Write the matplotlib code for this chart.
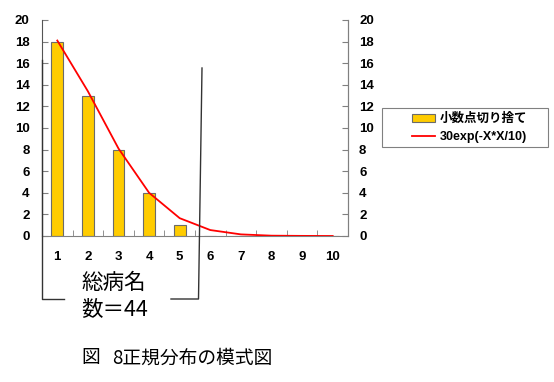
import matplotlib.pyplot as plt
from matplotlib.lines import Line2D
from matplotlib.patches import Rectangle

plt.rcParams['font.family'] = ['Liberation Sans', 'Noto Sans CJK JP', 'DejaVu Sans']

# データ
cats = [1, 2, 3, 4, 5, 6, 7, 8, 9, 10]
counts = [18, 13, 8, 4, 1, 0, 0, 0, 0, 0]          # 小数点切り捨て
curve = [18.1, 13.4, 8.1, 4.0, 1.65, 0.55, 0.15, 0.03, 0.01, 0.0]  # 30exp(-X*X/10)
yticks = [0, 2, 4, 6, 8, 10, 12, 14, 16, 18, 20]

W, H = 554, 382
fig = plt.figure(figsize=(W / 100, H / 100), dpi=100)
ax = fig.add_axes([42 / W, (H - 236) / H, (348 - 42) / W, (236 - 20) / H])

gray = '#808080'
bars = ax.bar(cats, counts, width=0.38, color='#FFCC00', edgecolor='#6b6b6b', linewidth=0.8,
              label='小数点切り捨て', zorder=2)
line, = ax.plot(cats, curve, color='#FF0000', lw=1.3, label='30exp(-X*X/10)', zorder=3)

ax.set_xlim(0.5, 10.5)
ax.set_ylim(0, 20)
ax.set_yticks(yticks)
ax.set_xticks(cats)
ax.set_xticks([c + 0.5 for c in cats[:-1]], minor=True)
ax.tick_params(axis='x', which='major', length=0, pad=11)
ax.tick_params(axis='x', which='minor', direction='in', length=4, color=gray)
ax.tick_params(axis='y', direction='in', length=4, color=gray, pad=9)
for lab in ax.get_xticklabels() + ax.get_yticklabels():
    lab.set_fontweight('bold')
    lab.set_fontsize(9.5)

ax.spines['top'].set_visible(False)
for s in ['left', 'right', 'bottom']:
    ax.spines[s].set_color(gray)
ax.spines['left'].set_color('#555555')

ax2 = ax.twinx()
ax2.set_ylim(0, 20)
ax2.set_yticks(yticks)
ax2.tick_params(axis='y', direction='in', length=4, color=gray, pad=8)
for lab in ax2.get_yticklabels():
    lab.set_fontweight('bold')
    lab.set_fontsize(9.5)
for s in ['left', 'top', 'bottom']:
    ax2.spines[s].set_visible(False)
ax2.spines['right'].set_color(gray)


def px(x, y):
    return x / W, 1 - y / H


# 凡例
fig.add_artist(Rectangle(px(382, 147), 166 / W, 39 / H, transform=fig.transFigure,
                         facecolor='white', edgecolor=gray, lw=0.8))
leg = fig.legend([bars, line], ['小数点切り捨て', '30exp(-X*X/10)'], loc='center left',
                 bbox_to_anchor=px(406, 128), frameon=False,
                 prop={'weight': 'bold', 'size': 9}, handlelength=1.8,
                 handleheight=0.7, handletextpad=0.4, borderpad=0, labelspacing=0.45)


def seg(pts):
    xs = [px(*p)[0] for p in pts]
    ys = [px(*p)[1] for p in pts]
    fig.add_artist(Line2D(xs, ys, color='#333333', lw=1.0, transform=fig.transFigure))


seg([(64, 299), (41.5, 299), (41.5, 60)])
seg([(171, 299), (198.5, 299), (202, 68)])

fig.text(*px(81, 283), '総病名', fontsize=15.5, family=['Noto Sans CJK JP'], va='center')
fig.text(*px(81, 310), '数＝44', fontsize=15.5, family=['Noto Sans CJK JP'], va='center')
fig.text(*px(81, 358), '図', fontsize=13.5, family=['Noto Sans CJK JP'], va='center')
fig.text(*px(112, 358), '8正規分布の模式図', fontsize=13.5, family=['Noto Sans CJK JP'],
         va='center')

fig.savefig('out.png', dpi=100)
